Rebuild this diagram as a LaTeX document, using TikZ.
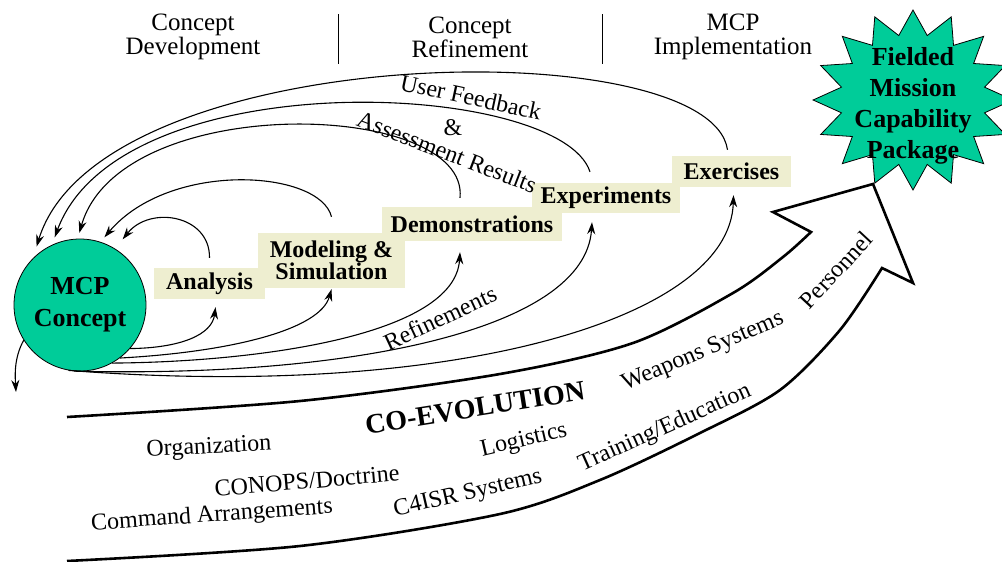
\documentclass[tikz,border=0pt]{standalone}
\usepackage{fontspec}
\setmainfont{Liberation Serif}
\usetikzlibrary{arrows.meta,shapes.geometric}

\definecolor{mcpgreen}{RGB}{0,204,153}
\definecolor{stagefill}{RGB}{238,238,208}

\begin{document}
\begin{tikzpicture}[x=1pt,y=-1pt,
    phase/.style={align=center,font=\fontsize{25}{24}\selectfont},
    stage/.style={fill=stagefill,inner sep=0pt,align=center,font=\bfseries\fontsize{24}{22}\selectfont},
    flow/.style={line width=1.1pt,-{Stealth[length=12pt,width=8pt]}},
    lbl/.style={inner sep=0pt,font=\fontsize{24}{28}\selectfont},
    bigarrow/.style={line width=2.6pt,line join=miter}]
  \useasboundingbox (0,0) rectangle (1002,562);

  % phases along the top
  \node[phase] (dev) at (193,37) {Concept\\Development};
  \node[phase] (ref) at (470,37) {Concept\\Refinement};
  \node[phase] (imp) at (733,37) {MCP\\Implementation};
  \draw[line width=1pt] (338,14) -- (338,64);
  \draw[line width=1pt] (602,14) -- (602,64);

  % co-evolution arrow
  \draw[bigarrow] plot[smooth] coordinates {(67,417) (300,401) (500,374) (633,343) (733,293) (783,257) (811,232)}
    -- (773,212) -- (873,184) -- (913,283)
    -- plot[smooth] coordinates {(882,268) (840,330) (780,390) (700,433) (600,480) (500,514) (300,546) (67,561)};

  \node[lbl,font=\bfseries\fontsize{28}{30}\selectfont,rotate=9] (coev) at (475,408) {CO-EVOLUTION};
  \node[lbl,rotate=3] (org) at (209,448) {Organization};
  \node[lbl,rotate=5] (conops) at (307,481) {CONOPS/Doctrine};
  \node[lbl,rotate=4] (cmd) at (212,516) {Command Arrangements};
  \node[lbl,rotate=13] (log) at (524,441) {Logistics};
  \node[lbl,rotate=13] (c4) at (468,494) {C4ISR Systems};
  \node[lbl,rotate=24] (train) at (665,428) {Training/Education};
  \node[lbl,rotate=23] (weap) at (703,352) {Weapons Systems};
  \node[lbl,rotate=47] (pers) at (836,270) {Personnel};

  % stages
  \node[stage,minimum width=111pt,minimum height=31pt] (ana) at (209.5,283.5) {Analysis};
  \node[stage,minimum width=147pt,minimum height=55pt] (mod) at (331.5,260.5) {Modeling \&\\Simulation};
  \node[stage,minimum width=180pt,minimum height=34pt] (dem) at (472,224) {Demonstrations};
  \node[stage,minimum width=148pt,minimum height=30pt] (exp) at (606,198) {Experiments};
  \node[stage,minimum width=119pt,minimum height=31pt] (exc) at (731.5,171.5) {Exercises};

  \node[circle,draw,line width=0.8pt,fill=mcpgreen,minimum size=132pt,inner sep=0pt,
        align=center,font=\bfseries\fontsize{26}{32}\selectfont] (mcp) at (80,305) {MCP\\Concept};

  \begin{scope}[shift={(913,100)},xscale=1.11]
    \node[star,star points=16,star point ratio=1.37,minimum size=180pt,inner sep=0pt,
          draw,line width=0.8pt,fill=mcpgreen,transform shape] (burst) {};
  \end{scope}
  \node[align=center,font=\bfseries\fontsize{26}{31}\selectfont] (pkg) at (913,106)
    {Fielded\\Mission\\Capability\\Package};

  % refinements out of the concept
  \draw[flow] (mcp.-41) .. controls (180,348) and (212,335) .. ([xshift=6pt,yshift=-8pt]ana.south);
  \draw[flow] (mcp.-53) .. controls (230,352) and (320,330) .. ([yshift=-1pt]mod.south);
  \draw[flow] (mcp.-61) .. controls (260,362) and (455,335) .. ([xshift=-12pt,yshift=-11pt]dem.south);
  \draw[flow] (mcp.-95) .. controls (350,378) and (585,330) .. ([xshift=-14pt,yshift=-9pt]exp.south);
  \draw[flow] (mcp.-100) .. controls (450,400) and (730,320) .. ([xshift=2pt,yshift=-8pt]exc.south);
  \node[lbl,rotate=25] (refn) at (440,318) {Refinements};

  % feedback into the concept
  \draw[flow,shorten >=12pt] ([yshift=10pt]ana.north) .. controls (210,215) and (150,205) .. (mcp.58);
  \draw[flow,shorten >=6pt] ([yshift=16pt]mod.north) .. controls (320,170) and (170,160) .. (mcp.72);
  \draw[flow,shorten >=6pt] ([xshift=-12pt,yshift=9pt]dem.north) .. controls (470,100) and (120,90) .. (mcp.92);
  \draw[flow,shorten >=8pt] ([xshift=-16pt,yshift=11pt]exp.north) .. controls (560,80) and (120,60) .. (mcp.115);
  \draw[flow,shorten >=12pt] ([xshift=-4pt,yshift=6pt]exc.north) .. controls (710,30) and (100,40) .. (mcp.135);
  \node[lbl,rotate=-12] (user) at (471,97) {User Feedback};
  \node[lbl] (amp) at (453,128) {\&};
  \node[lbl,rotate=-21] (assess) at (447,152) {Assessment Results};

  \draw[flow] (mcp.212) .. controls (14,358) and (15,375) .. (16,392);
\end{tikzpicture}
\end{document}
